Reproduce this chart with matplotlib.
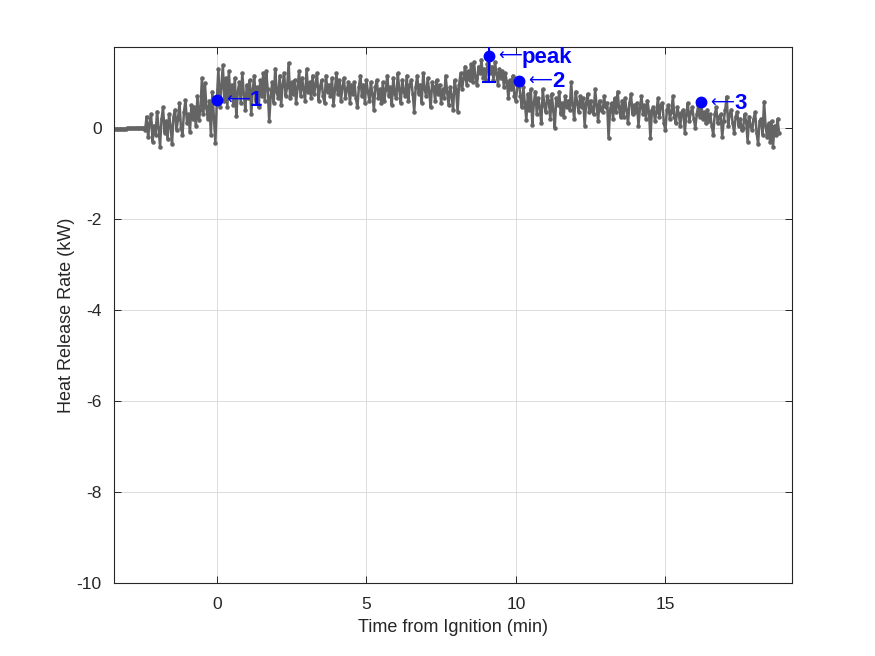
import numpy as np
import matplotlib.pyplot as plt

plt.rcParams["font.family"] = ["Liberation Sans", "DejaVu Sans"]
plt.rcParams["axes.unicode_minus"] = False

# heat release rate (kW), sampled every 0.05 min starting at -3.4 min
t_first = -3.4
t_step = 0.05
hrr = [
    -0.02, -0.02, -0.02, -0.02, -0.02, -0.02, -0.02, -0.02, -0.01, -0.01,
    -0.01, -0.01, -0.01, -0.01, 0.00, 0.00, 0.00, 0.00, 0.01, 0.00,
    -0.05, 0.25, -0.20, 0.10, 0.30, -0.30, 0.05, -0.15, 0.36, 0.00,
    -0.41, 0.20, 0.45, -0.10, 0.15, -0.25, 0.30, 0.05, -0.35, 0.25,
    0.40, -0.05, 0.20, 0.55, 0.00, -0.15, 0.35, 0.61, 0.10, 0.30,
    -0.08, 0.50, 0.20, 0.45, 0.05, 0.70, 0.18, 0.40, 1.10, 0.30,
    0.99, 0.45, 0.20, 0.60, -0.15, 0.80, 0.25, -0.33, 0.62, 1.30,
    0.45, 0.90, 1.38, 0.60, 1.10, 0.45, 1.25, 0.70, 0.95, 0.50,
    1.10, 0.26, 0.80, 1.00, 0.55, 1.20, 0.75, 0.40, 0.95, 0.65,
    1.05, 0.30, 0.85, 1.15, 0.60, 0.90, 0.45, 1.05, 0.70, 1.20,
    0.60, 1.25, 0.85, 0.15, 0.70, 1.00, 0.55, 1.30, 0.80, 0.65,
    1.15, 0.50, 0.95, 1.20, 0.70, 0.90, 1.43, 0.65, 1.00, 0.75,
    1.05, 0.55, 0.90, 1.25, 0.70, 1.10, 0.85, 0.60, 1.30, 0.80,
    1.00, 0.65, 1.15, 0.75, 0.95, 1.20, 0.60, 0.90, 1.05, 0.70,
    0.55, 1.15, 0.80, 0.95, 0.70, 1.10, 0.50, 0.85, 1.20, 0.75,
    1.05, 0.60, 0.90, 1.10, 0.65, 0.85, 1.00, 0.55, 0.95, 0.75,
    1.00, 0.65, 0.45, 0.90, 1.15, 0.70, 0.95, 0.55, 1.05, 0.80,
    0.60, 1.00, 0.75, 0.40, 0.90, 1.05, 0.65, 0.85, 0.55, 1.00,
    0.60, 0.85, 1.15, 0.70, 0.90, 0.50, 1.10, 0.75, 0.65, 1.20,
    0.85, 0.55, 1.05, 0.80, 0.70, 1.15, 0.60, 0.95, 1.05, 0.75,
    0.36, 0.90, 1.15, 0.75, 0.95, 0.55, 1.20, 0.85, 0.70, 1.10,
    0.80, 0.45, 1.00, 0.90, 0.60, 1.05, 0.75, 0.95, 0.55, 0.85,
    0.65, 1.15, 0.80, 0.50, 0.90, 0.70, 0.40, 1.05, 0.85, 0.36,
    0.95, 1.20, 0.85, 1.10, 1.35, 0.95, 1.25, 1.05, 1.40, 1.00,
    1.45, 1.10, 0.95, 1.35, 1.20, 1.50, 1.10, 1.30, 1.05, 1.40,
    1.58, 1.20, 1.35, 1.05, 1.45, 1.20, 0.95, 1.30, 1.10, 1.25,
    0.90, 1.20, 1.00, 0.65, 1.05, 0.85, 1.15, 0.70, 0.60, 0.95,
    1.04, 0.70, 0.45, 0.90, 0.55, 0.18, 0.75, 0.40, 0.85, 0.07,
    0.55, 0.80, 0.30, 0.65, 0.45, 0.10, 0.85, 0.50, 0.35, 0.70,
    0.60, 0.20, 0.75, 0.40, 0.00, 0.65, 0.50, 0.80, 0.30, 0.55,
    0.25, 0.70, 0.45, 0.60, 0.40, 1.00, 0.50, 0.20, 0.80, 0.55,
    0.35, 0.70, 0.45, 0.65, 0.05, 0.55, 0.75, 0.35, 0.60, 0.40,
    0.30, 0.85, 0.50, 0.15, 0.60, 0.40, 0.35, 0.70, 0.45, 0.55,
    -0.22, 0.40, 0.55, 0.20, 0.65, 0.35, 0.80, 0.45, 0.25, 0.60,
    0.25, 0.65, 0.40, 0.10, 0.55, 0.75, 0.30, 0.50, 0.35, 0.55,
    0.05, 0.45, 0.70, 0.30, 0.50, 0.20, 0.60, 0.35, -0.22, 0.40,
    0.45, 0.15, 0.35, 0.65, 0.25, 0.50, 0.55, 0.10, -0.05, 0.40,
    0.50, 0.20, 0.35, 0.70, 0.25, 0.10, 0.45, 0.30, 0.05, 0.35,
    0.40, -0.10, 0.30, 0.55, 0.15, 0.35, 0.45, 0.20, 0.00, 0.30,
    0.50, 0.25, 0.56, 0.20, 0.35, 0.10, 0.40, 0.15, 0.30, 0.05,
    -0.15, 0.30, 0.45, 0.10, 0.25, 0.30, -0.20, 0.15, 0.40, 0.69,
    0.05, 0.30, 0.40, 0.10, -0.10, 0.25, 0.35, 0.05, 0.20, -0.05,
    0.00, 0.30, 0.15, -0.30, 0.25, 0.05, -0.05, 0.20, 0.35, -0.10,
    -0.35, 0.15, 0.20, -0.15, 0.58, 0.05, -0.20, 0.10, -0.30, 0.15,
    -0.41, 0.05, -0.15, 0.20, -0.10,
]

# marked points
mark_t = [0.0, 9.1, 10.1, 16.2]
mark_v = [0.62, 1.58, 1.04, 0.56]
mark_lbl = ["1", "peak", "2", "3"]

# spread shown at the peak
peak_err = 0.56

time = t_first + t_step * np.arange(len(hrr))

fig = plt.figure(figsize=(8.75, 6.56), dpi=100)
ax = fig.add_axes([0.1303, 0.1113, 0.7747, 0.8171])

ax.plot(time, hrr, color="#646464", lw=1.8, marker=".", ms=4.5, zorder=2)

ax.plot(mark_t, mark_v, "o", color="blue", ms=7.5, zorder=4, linestyle="none")
ax.errorbar(mark_t[1], mark_v[1], yerr=peak_err, color="blue", lw=1.5,
            capsize=5, capthick=1.5, zorder=3)

# label: thin long arrow, then the bold name
for x, y, s in zip(mark_t, mark_v, mark_lbl):
    ax.annotate("\u27f5", (x, y), xytext=(9, 0), textcoords="offset pixels",
                color="blue", fontsize=12, va="center", ha="left",
                family="DejaVu Sans")
    ax.annotate(s, (x, y), xytext=(33, -1), textcoords="offset pixels",
                color="blue", fontsize=16, fontweight="bold", va="center", ha="left")

ax.set_xlim(-3.44, 19.23)
ax.set_ylim(-10, 1.78)
ax.set_xticks([0, 5, 10, 15])
ax.set_yticks([-10, -8, -6, -4, -2, 0])
ax.grid(True, color="#dcdcdc", lw=0.7)
ax.set_axisbelow(True)
ax.tick_params(direction="in", top=True, right=True, labelsize=12.5, length=5,
               width=0.7, colors="#262626")
ax.tick_params(axis="x", pad=10)
ax.tick_params(axis="y", pad=9)
for sp in ax.spines.values():
    sp.set_color("#262626")
    sp.set_linewidth(0.8)

ax.set_xlabel("Time from Ignition (min)", fontsize=13, color="#262626", labelpad=5)
ax.set_ylabel("Heat Release Rate (kW)", fontsize=13, color="#262626", labelpad=1)

fig.savefig("out.png")
